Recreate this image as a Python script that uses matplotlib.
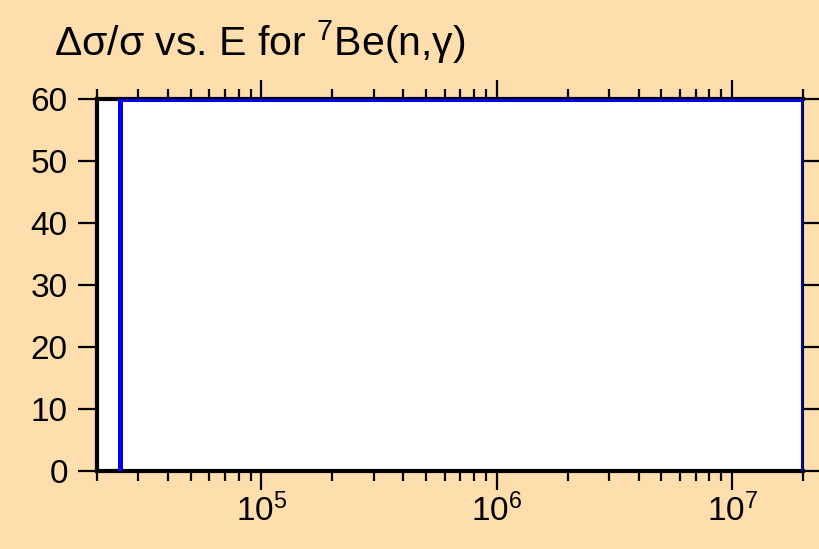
import matplotlib
matplotlib.use("Agg")
import matplotlib.pyplot as plt
from matplotlib.ticker import LogLocator, NullFormatter

plt.rcParams['font.family'] = ['Liberation Sans', 'DejaVu Sans']
plt.rcParams['mathtext.fontset'] = 'custom'
plt.rcParams['mathtext.rm'] = 'Liberation Sans'
plt.rcParams['mathtext.it'] = 'Liberation Sans:italic'
plt.rcParams['mathtext.bf'] = 'Liberation Sans:bold'

# Data: relative uncertainty (%) vs. energy (eV)
energy = [2.5e4, 2.5e4, 2.0e7, 2.0e7]
rel_unc = [0, 60, 60, 0]

x_range = [2e4, 2e7]
y_range = [0, 60]
y_ticks = [0, 10, 20, 30, 40, 50, 60]

bg = '#FFDEAD'
fig = plt.figure(figsize=(8.2, 5.49), dpi=100, facecolor=bg)
ax = fig.add_axes([97/820, 1-471/549, (803-97)/820, (471-99)/549])
ax.set_facecolor('white')

ax.plot(energy, rel_unc, color='#0000EE', lw=3.6, zorder=3, clip_on=True)

ax.set_xscale('log')
ax.set_xlim(*x_range)
ax.set_ylim(*y_range)
ax.set_yticks(y_ticks)
ax.xaxis.set_major_locator(LogLocator(base=10, numticks=10))
ax.xaxis.set_minor_locator(LogLocator(base=10, subs=range(2, 10), numticks=20))
ax.xaxis.set_minor_formatter(NullFormatter())

for s in ax.spines.values():
    s.set_linewidth(3)
    s.set_color('black')
    s.set_zorder(2.5)
ax.spines['right'].set_linewidth(1.5)

ax.tick_params(axis='both', which='major', direction='out', length=14, width=1.6,
               labelsize=24, colors='black')
ax.tick_params(axis='x', which='minor', direction='out', length=7, width=1.6)
ax.tick_params(axis='x', which='both', top=True, bottom=True)
ax.tick_params(axis='y', which='both', left=True, right=True)
ax.tick_params(axis='y', which='major', pad=7)
ax.tick_params(axis='x', which='major', pad=2)

fig.text(54/820, 1-56/549, r'Δσ/σ vs. E for $^{7}$Be(n,γ)', fontsize=29.5,
         ha='left', va='baseline')

fig.savefig('out.png', dpi=100, facecolor=bg)
